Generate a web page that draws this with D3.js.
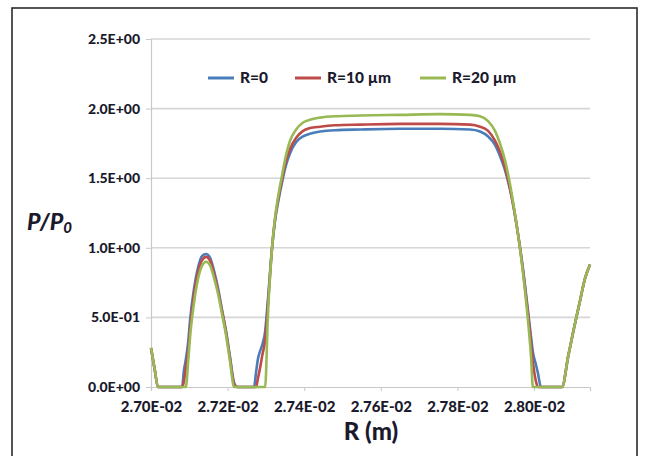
<!DOCTYPE html>
<html><head><meta charset="utf-8">
<script src="https://cdn.jsdelivr.net/npm/d3@7"></script>
<style>html,body{margin:0;padding:0;background:#fff;}svg{display:block;}</style>
</head><body>
<svg id="chart" width="645" height="456"></svg>
<script>
// Radial position (m)
const R_m = [0.027000,0.027010,0.027018,0.027050,0.027081,0.027086,0.027091,0.027097,0.027102,0.027112,
0.027123,0.027133,0.027144,0.027154,0.027164,0.027175,0.027185,0.027196,0.027206,0.027217,
0.027225,0.027245,0.027269,0.027274,0.027279,0.027285,0.027290,0.027298,0.027305,0.027316,
0.027324,0.027332,0.027342,0.027352,0.027363,0.027379,0.027397,0.027415,0.027441,0.027480,
0.027546,0.027650,0.027755,0.027833,0.027859,0.027880,0.027898,0.027911,0.027924,0.027937,
0.027948,0.027958,0.027971,0.027984,0.027992,0.027997,0.028005,0.028010,0.028018,0.028042,
0.028073,0.028089,0.028104,0.028120,0.028133,0.028146];
// P/P0 for R=0
const p_R0 = [0.28,0.12,0,0,0,0.12,0.20,0.32,0.48,0.70,
0.86,0.94,0.955,0.93,0.84,0.71,0.56,0.40,0.22,0.03,
0,0,0,0.10,0.20,0.26,0.30,0.40,0.62,1.00,
1.20,1.33,1.47,1.59,1.68,1.76,1.80,1.82,1.835,1.845,
1.85,1.855,1.855,1.85,1.835,1.80,1.74,1.66,1.56,1.42,
1.27,1.10,0.85,0.55,0.36,0.25,0.16,0.10,0,0,
0,0.22,0.42,0.62,0.78,0.88];
// P/P0 for R=10 µm
const p_R10 = [0.28,0.12,0,0,0,0.04,0.14,0.26,0.42,0.66,
0.83,0.91,0.935,0.91,0.82,0.69,0.55,0.39,0.21,0.02,
0,0,0,0,0.06,0.14,0.22,0.34,0.58,1.00,
1.21,1.35,1.49,1.62,1.71,1.79,1.84,1.86,1.87,1.88,
1.885,1.89,1.89,1.885,1.87,1.84,1.77,1.69,1.58,1.43,
1.27,1.10,0.84,0.53,0.32,0.18,0.04,0,0,0,
0,0.22,0.42,0.62,0.78,0.88];
// P/P0 for R=20 µm
const p_R20 = [0.28,0.12,0,0,0,0,0,0.18,0.36,0.60,
0.78,0.87,0.90,0.875,0.79,0.67,0.53,0.37,0.19,0,
0,0,0,0,0,0,0,0,0.50,1.00,
1.22,1.37,1.52,1.66,1.77,1.85,1.90,1.92,1.935,1.945,
1.95,1.955,1.96,1.955,1.945,1.91,1.84,1.75,1.63,1.46,
1.28,1.10,0.82,0.48,0.22,0,0,0,0,0,
0,0.22,0.42,0.62,0.78,0.88];

const seriesNames = ["R=0", "R=10 µm", "R=20 µm"];
const seriesColors = ["#4a7ebb", "#be4b48", "#98b954"];
const seriesData = [p_R0, p_R10, p_R20];
const xTicks = [0.0270, 0.0272, 0.0274, 0.0276, 0.0278, 0.0280];
const xTickLabels = ["2.70E-02","2.72E-02","2.74E-02","2.76E-02","2.78E-02","2.80E-02"];
const yTicks = [0, 0.5, 1.0, 1.5, 2.0, 2.5];
const yTickLabels = ["0.0E+00","5.0E-01","1.0E+00","1.5E+00","2.0E+00","2.5E+00"];

const svg = d3.select("#chart");
const textColor = "#1a1a2c";
const tickFont = "Lato, 'Open Sans', sans-serif";

// chart border
svg.append("rect").attr("x", 12).attr("y", 8).attr("width", 625).attr("height", 460)
  .attr("fill", "#fff").attr("stroke", "#2b2b2b").attr("stroke-width", 1.6);

const x = d3.scaleLinear().domain([0.0270, 0.028146]).range([151, 590]);
const y = d3.scaleLinear().domain([0, 2.5]).range([387, 39]);

// gridlines
const grid = svg.append("g");
grid.selectAll("line").data(yTicks.filter(v => v > 0)).join("line")
  .attr("x1", 151).attr("x2", 590)
  .attr("y1", d => y(d)).attr("y2", d => y(d))
  .attr("stroke", "#d6d6d6").attr("stroke-width", 1.6);

// y axis
const yAxis = d3.axisLeft(y).tickValues(yTicks)
  .tickFormat((d, i) => yTickLabels[i]).tickSize(5).tickPadding(6);
const gy = svg.append("g").attr("transform", "translate(151,0)").call(yAxis);
gy.select(".domain").attr("stroke", "#c8c8c8").attr("stroke-width", 1.2);
gy.selectAll(".tick line").attr("stroke", "#c8c8c8");
gy.selectAll("text").attr("font-family", tickFont).attr("font-weight", "900")
  .attr("font-size", 14).attr("fill", textColor);

// x axis
const xAxis = d3.axisBottom(x).tickValues(xTicks)
  .tickFormat((d, i) => xTickLabels[i]).tickSize(4).tickPadding(10);
const gx = svg.append("g").attr("transform", "translate(0,387)").call(xAxis);
gx.select(".domain").attr("stroke", "#c8c8c8").attr("stroke-width", 1.2);
gx.selectAll(".tick line").attr("stroke", "#c8c8c8");
gx.selectAll("text").attr("font-family", tickFont).attr("font-weight", "900")
  .attr("font-size", 15).attr("fill", textColor);

// lines
const line = d3.line().x((d, i) => x(R_m[i])).y(d => y(d)).curve(d3.curveMonotoneX);
seriesData.forEach((s, k) => {
  svg.append("path").datum(s).attr("d", line)
    .attr("fill", "none").attr("stroke", seriesColors[k]).attr("stroke-width", 2.6)
    .attr("stroke-linejoin", "round");
});

// legend
const legendX = [208, 295, 420];
const lg = svg.append("g");
seriesNames.forEach((n, k) => {
  lg.append("line").attr("x1", legendX[k]).attr("x2", legendX[k] + 26)
    .attr("y1", 78).attr("y2", 78).attr("stroke", seriesColors[k]).attr("stroke-width", 3);
  lg.append("text").attr("x", legendX[k] + 32).attr("y", 78).attr("dy", "0.35em")
    .attr("font-family", tickFont).attr("font-weight", "900").attr("font-size", 15.5)
    .attr("fill", textColor).text(n);
});

// axis titles
const yt = svg.append("text").attr("x", 27).attr("y", 230)
  .attr("font-family", tickFont).attr("font-weight", "900").attr("font-style", "italic")
  .attr("font-size", 23).attr("fill", textColor);
yt.append("tspan").text("P/P");
yt.append("tspan").attr("font-size", 15).attr("dy", 3).text("0");

svg.append("text").attr("x", 371).attr("y", 440).attr("text-anchor", "middle")
  .attr("font-family", tickFont).attr("font-weight", "900")
  .attr("font-size", 24).attr("fill", textColor).text("R (m)");
</script>
</body></html>
